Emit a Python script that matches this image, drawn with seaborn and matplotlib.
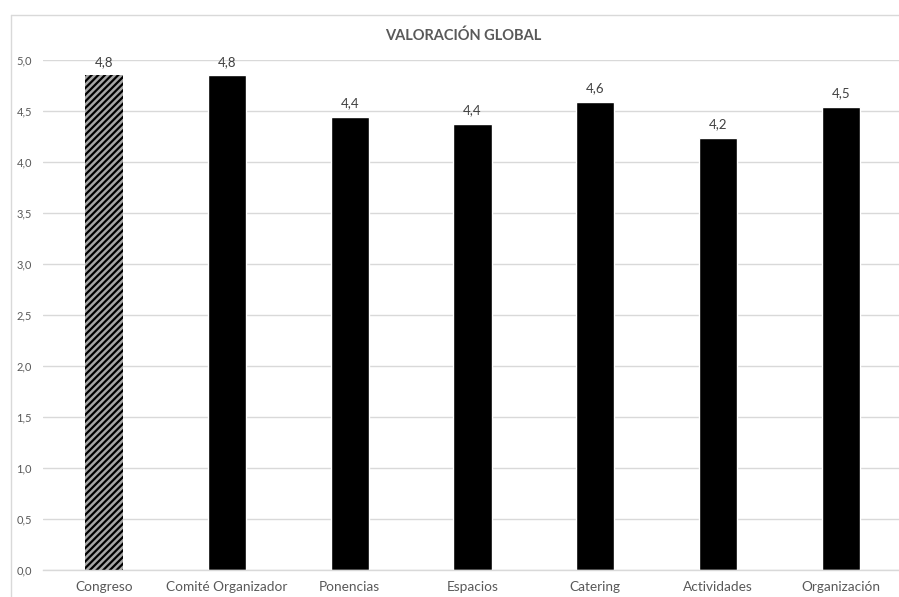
import matplotlib
matplotlib.use("Agg")
import matplotlib.pyplot as plt
from matplotlib.lines import Line2D
import seaborn as sns
import pandas as pd

categorias = ["Congreso", "Comité Organizador", "Ponencias", "Espacios",
              "Catering", "Actividades", "Organización"]
valores = [4.85, 4.85, 4.44, 4.37, 4.59, 4.24, 4.54]
ticks_y = [0.0, 0.5, 1.0, 1.5, 2.0, 2.5, 3.0, 3.5, 4.0, 4.5, 5.0]
titulo = "VALORACIÓN GLOBAL"

sns.set_theme(style="white")
plt.rcParams["font.family"] = ["Lato", "DejaVu Sans"]
plt.rcParams["hatch.linewidth"] = 1.6

df = pd.DataFrame({"categoria": categorias, "valor": valores})

W, H = 899, 597
fig = plt.figure(figsize=(W / 100, H / 100), dpi=100)
ax = fig.add_axes([43 / W, 1 - 570 / H, (902 - 43) / W, (570 - 60) / H])

sns.barplot(data=df, x="categoria", y="valor", color="black",
            width=0.31, ax=ax, saturation=1)

# first bar: grey with black diagonal hatching
primera = ax.patches[0]
primera.set_facecolor("#a6a6a6")
primera.set_edgecolor("black")
primera.set_hatch("/////")
primera.set_linewidth(0)

ax.set_ylim(0, 5.0)
ax.set_xlim(-0.5, len(categorias) - 0.5)
ax.set_yticks(ticks_y)
ax.set_yticklabels([f"{t:.1f}".replace(".", ",") for t in ticks_y])
ax.set_xlabel("")
ax.set_ylabel("")
ax.yaxis.grid(True, color="#d9d9d9", linewidth=1.0)
ax.set_axisbelow(True)
for s in ["top", "right", "left"]:
    ax.spines[s].set_visible(False)
ax.spines["bottom"].set_color("#d9d9d9")
ax.spines["bottom"].set_linewidth(1.0)
ax.tick_params(axis="y", labelsize=8, colors="#595959", length=0, pad=8)
ax.tick_params(axis="x", labelsize=9.8, colors="#595959", length=0, pad=8)

for barra, v in zip(ax.patches, valores):
    ax.annotate(f"{v:.1f}".replace(".", ","),
                (barra.get_x() + barra.get_width() / 2, v),
                xytext=(0, 5.5), textcoords="offset points",
                ha="center", va="bottom", fontsize=9.5, color="#404040")

fig.text(463 / W, 1 - 36 / H, titulo, ha="center", va="center",
         fontsize=10.5, fontweight="bold", color="#595959")

# chart area border: top and left edges only (the rest lies outside the canvas)
borde_y = 1 - 14.5 / H
borde_x = 10.5 / W
fig.add_artist(Line2D([borde_x, 1.0], [borde_y, borde_y], transform=fig.transFigure,
                      color="#d9d9d9", linewidth=1.0))
fig.add_artist(Line2D([borde_x, borde_x], [0.0, borde_y], transform=fig.transFigure,
                      color="#d9d9d9", linewidth=1.0))

fig.savefig("out.png", dpi=100)
